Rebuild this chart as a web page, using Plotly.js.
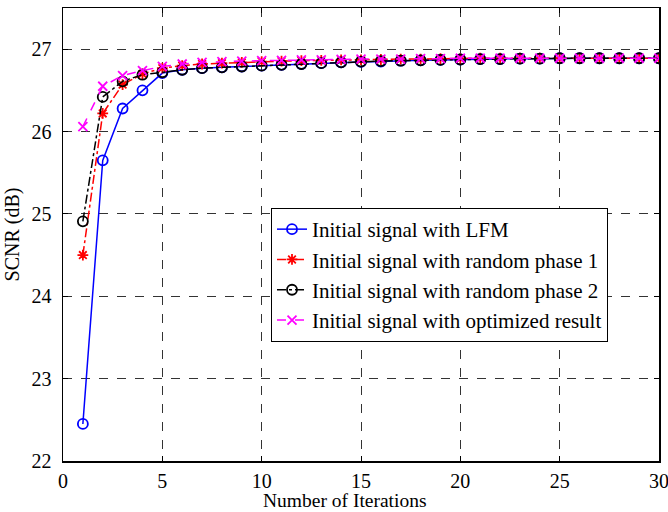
<!DOCTYPE html>
<html><head><meta charset="utf-8">
<script src="https://cdn.plot.ly/plotly-3.0.1.min.js"></script>
<style>html,body{margin:0;padding:0;background:#fff}#chart{width:668px;height:512px}</style>
</head><body><div id="chart"></div>
<script>
const iterations = [1,2,3,4,5,6,7,8,9,10,11,12,13,14,15,16,17,18,19,20,21,22,23,24,25,26,27,28,29,30];
const lfm = [22.45,25.65,26.28,26.50,26.71,26.75,26.77,26.78,26.79,26.80,26.81,26.82,26.83,26.84,26.845,26.85,26.86,26.865,26.87,26.875,26.88,26.88,26.885,26.885,26.89,26.89,26.89,26.89,26.89,26.89];
const randomPhase1 = [24.50,26.22,26.57,26.70,26.77,26.80,26.82,26.83,26.84,26.85,26.855,26.86,26.865,26.87,26.87,26.875,26.88,26.88,26.885,26.885,26.89,26.89,26.89,26.89,26.89,26.89,26.89,26.89,26.89,26.89];
const randomPhase2 = [24.91,26.42,26.61,26.69,26.72,26.75,26.77,26.78,26.79,26.80,26.81,26.82,26.83,26.84,26.85,26.855,26.86,26.865,26.87,26.875,26.88,26.88,26.885,26.885,26.89,26.89,26.89,26.89,26.89,26.89];
const optimized = [26.06,26.55,26.68,26.74,26.79,26.82,26.84,26.85,26.855,26.86,26.865,26.87,26.87,26.875,26.88,26.88,26.88,26.885,26.885,26.89,26.89,26.89,26.89,26.89,26.89,26.89,26.89,26.89,26.89,26.89];
const seriesNames = ['Initial signal with LFM','Initial signal with random phase 1','Initial signal with random phase 2','Initial signal with optimized result'];
const xTicks = [0,5,10,15,20,25,30];
const yTicks = [22,23,24,25,26,27];

const F = 'Liberation Serif, Times New Roman, serif';
const FS = 20;
const traces = [
  {x: iterations, y: lfm, name: seriesNames[0], mode: 'lines+markers',
   line: {color: '#0000ff', width: 1.5}, marker: {symbol: 'circle-open', size: 10, color: '#0000ff', line: {width: 1.8}}},
  {x: iterations, y: randomPhase1, name: seriesNames[1], mode: 'lines+markers',
   line: {color: '#ff0000', width: 1.5, dash: 'dashdot'}, marker: {symbol: 'asterisk-open', size: 9, color: '#ff0000', line: {width: 1.8}}},
  {x: iterations, y: randomPhase2, name: seriesNames[2], mode: 'lines+markers',
   line: {color: '#000000', width: 1.5, dash: 'dashdot'}, marker: {symbol: 'circle-open', size: 10, color: '#000000', line: {width: 1.8}}},
  {x: iterations, y: optimized, name: seriesNames[3], mode: 'lines+markers',
   line: {color: '#ff00ff', width: 1.5, dash: 'dash'}, marker: {symbol: 'x-thin-open', size: 9, color: '#ff00ff', line: {width: 1.8}}}
];
const layout = {
  width: 668, height: 512,
  margin: {l: 63, r: 9, t: 8, b: 51},
  paper_bgcolor: '#fff', plot_bgcolor: '#fff',
  font: {family: F, size: FS, color: '#000'},
  showlegend: true,
  legend: {x: 0.349, y: 0.5585, xanchor: 'left', yanchor: 'top', bgcolor: '#fff',
    bordercolor: '#000', borderwidth: 1, font: {family: F, size: 21}, tracegroupgap: 0},
  xaxis: {range: [0, 30], tickvals: xTicks, ticktext: xTicks.map(String), showline: true, mirror: 'ticks',
    linecolor: '#000', linewidth: 1.5, ticks: 'inside', ticklen: 5, tickcolor: '#000',
    showgrid: true, gridcolor: '#333', griddash: 'dash', gridwidth: 1, zeroline: false,
    ticklabelstandoff: 1, ticklabeloverflow: 'allow', tickfont: {family: F, size: FS}},
  yaxis: {range: [22, 27.5], tickvals: yTicks, ticktext: yTicks.map(String), showline: true, mirror: 'ticks',
    linecolor: '#000', linewidth: 1.5, ticks: 'inside', ticklen: 5, tickcolor: '#000',
    showgrid: true, gridcolor: '#333', griddash: 'dash', gridwidth: 1, zeroline: false,
    ticklabelstandoff: 6, ticklabeloverflow: 'allow', tickfont: {family: F, size: FS}, title: {text: 'SCNR (dB)', font: {family: F, size: FS}, standoff: 6}},
  annotations: [{text: 'Number of Iterations', xref: 'paper', yref: 'paper', x: 0.473, y: -0.113,
    xanchor: 'center', yanchor: 'bottom', borderpad: 0, showarrow: false, font: {family: F, size: 19.5}}]
};
Plotly.newPlot('chart', traces, layout, {displayModeBar: false, staticPlot: true});
</script></body></html>
